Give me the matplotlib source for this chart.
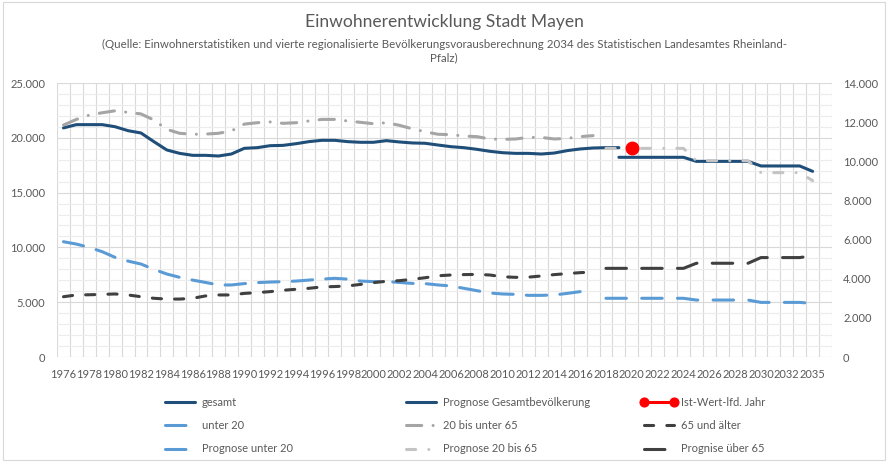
import numpy as np
import matplotlib.pyplot as plt
from matplotlib.patches import Rectangle
from matplotlib.ticker import MultipleLocator, FuncFormatter

plt.rcParams['font.family'] = ['Lato', 'DejaVu Sans']

# Kategorien (Jahre) - 2034 fehlt, letzter Slot leer
jahre = [str(j) for j in range(1976, 2034)] + ['2035', '']

# Gesamtbevoelkerung (linke Achse), 1976-2019
gesamt = [20900, 21200, 21200, 21200, 21010, 20650, 20440, 19650, 18890, 18580,
          18400, 18400, 18340, 18520, 19040, 19100, 19280, 19310, 19460, 19650,
          19770, 19770, 19650, 19590, 19590, 19740, 19620, 19530, 19500, 19340,
          19190, 19100, 18950, 18770, 18640, 18580, 18580, 18520, 18610, 18830,
          18980, 19070, 19100, 19100]
prog_gesamt = [18220, 18220, 18220, 18220, 18220, 18220, 17850, 17850, 17850, 17850,
               17850, 17430, 17430, 17430, 17430, 16940]   # 2019-2035
ist_wert = [19100]   # 2020

# Altersgruppen (rechte Achse), 1976-2017
unter20 = [5890, 5770, 5600, 5380, 5090, 4900, 4750, 4480, 4240, 4070,
           3930, 3810, 3680, 3680, 3750, 3800, 3830, 3850, 3880, 3930,
           3980, 4020, 3980, 3880, 3850, 3860, 3810, 3760, 3750, 3680,
           3630, 3510, 3390, 3270, 3220, 3200, 3150, 3150, 3170, 3250,
           3340, 3390]
mitte = [11850, 12140, 12360, 12480, 12580, 12500, 12420, 12110, 11630, 11430,
         11380, 11390, 11430, 11550, 11900, 11970, 12010, 11940, 11970, 12060,
         12140, 12140, 12060, 11990, 11920, 11970, 11840, 11660, 11510, 11380,
         11360, 11290, 11260, 11140, 11120, 11140, 11220, 11220, 11140, 11170,
         11260, 11310]
ueber65 = [3080, 3170, 3180, 3200, 3220, 3170, 3080, 3000, 2960, 2960,
           3000, 3120, 3170, 3170, 3250, 3290, 3340, 3410, 3460, 3510,
           3580, 3600, 3630, 3710, 3800, 3870, 3900, 3970, 4050, 4150,
           4190, 4210, 4220, 4190, 4100, 4070, 4080, 4140, 4210, 4260,
           4310, 4340]
# Prognosen 2018-2035
prog_unter20 = [3000, 3000, 3000, 3000, 3000, 3000, 3000, 2910, 2910, 2910,
                2910, 2910, 2790, 2790, 2790, 2790, 2740]
prog_mitte = [10660, 10660, 10660, 10660, 10660, 10660, 10660, 10030, 10030, 10030,
              10030, 10030, 9420, 9420, 9420, 9420, 9010]
prog_ueber65 = [4530, 4530, 4530, 4530, 4530, 4530, 4530, 4790, 4790, 4790,
                4790, 4790, 5080, 5080, 5080, 5080, 5180]

grau = '#595959'
dunkelblau = '#1F4E79'
hellblau = '#5B9BD5'

fig = plt.figure(figsize=(8.88, 4.62), dpi=100)
ax = fig.add_axes([57/888, 1-357/462, (832-57)/888, (357-83)/462])
ax2 = ax.twinx()

lw = 2.2
l_ges, = ax.plot(np.arange(len(gesamt)), gesamt, color=dunkelblau, lw=lw,
                 solid_capstyle='round', label='gesamt')
l_pges, = ax.plot(np.arange(43, 43+len(prog_gesamt)), prog_gesamt, color=dunkelblau, lw=lw,
                  solid_capstyle='round', label='Prognose Gesamtbevölkerung')

l_u20, = ax2.plot(np.arange(len(unter20)), unter20, color=hellblau, lw=lw,
                  dashes=(6.7, 4.3), dash_capstyle='round', label='unter 20')
l_mit, = ax2.plot(np.arange(len(mitte)), mitte, color='#A5A5A5', lw=lw,
                  dashes=(5, 3.7, 0.01, 3.7), dash_capstyle='round', label='20 bis unter 65')
l_65, = ax2.plot(np.arange(len(ueber65)), ueber65, color='#404040', lw=lw,
                 dashes=(3, 4.3), dash_capstyle='round', label='65 und älter')
l_pu20, = ax2.plot(np.arange(42, 42+len(prog_unter20)), prog_unter20, color=hellblau, lw=lw,
                   dashes=(6.7, 5), dash_capstyle='round', label='Prognose unter 20')
l_pmit, = ax2.plot(np.arange(42, 42+len(prog_mitte)), prog_mitte, color='#C4C4C4', lw=lw,
                   dashes=(3, 4.3, 0.01, 4.3), dash_capstyle='round', label='Prognose 20 bis 65')
l_p65, = ax2.plot(np.arange(42, 42+len(prog_ueber65)), prog_ueber65, color='#404040', lw=lw,
                  dashes=(6.7, 5), dash_capstyle='round', label='Prognise über 65')
l_ist, = ax2.plot([44], ist_wert, color='#FF0000', lw=lw, marker='o', markersize=9,
                  transform=ax.transData, label='Ist-Wert-lfd. Jahr')

# Achsen
ax.set_xlim(-0.5, len(jahre) - 0.5)
ax.set_ylim(0, 25000)
ax2.set_ylim(0, 14000)
ax.set_xticks(np.arange(0, len(jahre), 2))
ax.set_xticklabels([jahre[i] for i in range(0, len(jahre), 2)])
ax.set_xticks(np.arange(-0.5, len(jahre), 1), minor=True)
ax.yaxis.set_major_locator(MultipleLocator(5000))
ax.yaxis.set_minor_locator(MultipleLocator(1000))
ax2.yaxis.set_major_locator(MultipleLocator(2000))
fmt = FuncFormatter(lambda v, p: f'{v:,.0f}'.replace(',', '.'))
ax.yaxis.set_major_formatter(fmt)
ax2.yaxis.set_major_formatter(fmt)

ax.grid(True, which='minor', axis='x', color='#D9D9D9', lw=0.8)
ax.grid(True, which='major', axis='y', color='#D9D9D9', lw=0.8)
ax.grid(True, which='minor', axis='y', color='#ECECEC', lw=0.8)
ax.set_axisbelow(True)

for a in (ax, ax2):
    for s in a.spines.values():
        s.set_visible(False)
    a.tick_params(which='both', length=0, labelsize=8, labelcolor=grau)
ax.tick_params(axis='y', pad=8.5)
ax.tick_params(axis='x', pad=9)
ax2.tick_params(axis='y', pad=8)

# Titel
fig.text(0.5, 1-22/462, 'Einwohnerentwicklung Stadt Mayen', ha='center', va='center',
         fontsize=12.6, color=grau)
fig.text(0.5, 1-51/462,
         '(Quelle: Einwohnerstatistiken und vierte regionalisierte Bevölkerungsvorausberechnung 2034 '
         'des Statistischen Landesamtes Rheinland-\nPfalz)',
         ha='center', va='center', fontsize=8.3, color=grau, linespacing=1.3)

# Legende in drei Spalten
spalten = [(162, [l_ges, l_u20, l_pu20]),
           (403, [l_pges, l_mit, l_pmit]),
           (641, [l_ist, l_65, l_p65])]
for xpos, handles in spalten:
    fig.legend(handles=handles, loc='upper left', bbox_to_anchor=(xpos/888, 1-397/462),
               frameon=False, fontsize=8, labelcolor=grau, handlelength=3.3,
               handletextpad=0.3, labelspacing=1.1, borderpad=0, borderaxespad=0,
               numpoints=2, markerscale=0.7)

fig.patches.append(Rectangle((0.003, 0.005), 0.994, 0.99, transform=fig.transFigure,
                             fill=False, edgecolor='#D9D9D9', lw=0.8))

fig.savefig('out.png', dpi=100)
